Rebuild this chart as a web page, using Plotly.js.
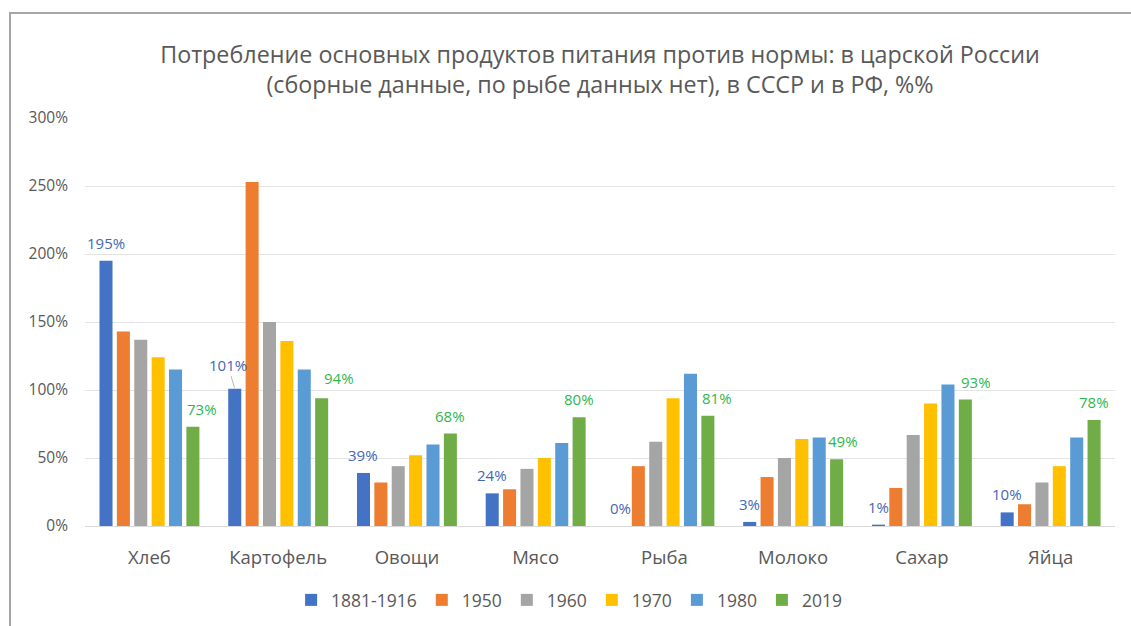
<!DOCTYPE html>
<html>
<head>
<meta charset="utf-8">
<script src="https://cdn.plot.ly/plotly-3.0.1.min.js"></script>
<style>
html,body{margin:0;padding:0;background:#fff;}
#frame{position:absolute;left:0;top:0;width:1131px;height:626px;overflow:hidden;}
#edge{position:absolute;left:9px;top:12px;width:1122px;height:614px;border-top:2px solid #a6a6a6;border-left:2px solid #a6a6a6;box-sizing:border-box;pointer-events:none;z-index:5;}
#chart{position:absolute;left:0;top:0;width:1131px;height:626px;}
</style>
</head>
<body>
<div id="frame"><div id="chart"></div><div id="edge"></div></div>
<script>
const categories = ["Хлеб","Картофель","Овощи","Мясо","Рыба","Молоко","Сахар","Яйца"];
const seriesNames = ["1881-1916","1950","1960","1970","1980","2019"];
const s1881 = [195,101,39,24,0,3,1,10];
const s1950 = [143,253,32,27,44,36,28,16];
const s1960 = [137,150,44,42,62,50,67,32];
const s1970 = [124,136,52,50,94,64,90,44];
const s1980 = [115,115,60,61,112,65,104,65];
const s2019 = [73,94,68,80,81,49,93,78];
const yTicks = [0,50,100,150,200,250,300];

const seriesValues = [s1881,s1950,s1960,s1970,s1980,s2019];
const colors = ["#4472C4","#ED7D31","#A5A5A5","#FFC000","#5B9BD5","#70AD47"];

const FONT = 'Open Sans, Noto Sans, sans-serif';
const M = {l:85, r:16, t:118, b:100};
const W = 1131, H = 626;
const bargap = 0.19, bargroupgap = 0.25;

const traces = seriesValues.map((vals,i)=>({
  type:'bar', name:seriesNames[i], x:categories, y:vals,
  marker:{color:colors[i], line:{width:0}},
  hoverinfo:'skip'
}));

const plotW = W - M.l - M.r;
const slotPx = plotW/categories.length*(1-bargap)/seriesValues.length;

// label style adjustments (pixel nudges) per label
const blueNudge = {"Картофель":{arrow:true, ax:-7, ay:-24}};
const greenNudge = {"Хлеб":{dx:9}, "Картофель":{dx:17, dy:2}, "Рыба":{dx:9}, "Молоко":{dx:6}, "Сахар":{dx:11}};

const annotations = [];
function addLabels(idx, color, nudges){
  const vals = seriesValues[idx];
  categories.forEach((c,k)=>{
    const n = nudges[c] || {};
    const base = {
      xref:'x', yref:'y', x:c, y:vals[k],
      text: vals[k] + '%',
      font:{family:FONT, size:15, color:color},
      xshift:(idx-2.5)*slotPx + (n.dx||0)
    };
    if(n.arrow){
      Object.assign(base,{showarrow:true, ax:n.ax, ay:n.ay, arrowhead:0, arrowwidth:0.8, arrowcolor:'#a6a6a6', standoff:1});
    } else {
      Object.assign(base,{showarrow:false, yanchor:'bottom', yshift:6 + (n.dy||0)});
    }
    annotations.push(base);
  });
}
addLabels(0, '#4467B3', blueNudge);
addLabels(5, '#2DB84D', greenNudge);

const layout = {
  width:W, height:H,
  margin:Object.assign({autoexpand:false}, M),
  paper_bgcolor:'#fff', plot_bgcolor:'#fff',
  barmode:'group', bargap:bargap, bargroupgap:bargroupgap,
  title:{
    text:'Потребление основных продуктов питания против нормы: в царской России<br>(сборные данные, по рыбе данных нет), в СССР и в РФ, %%',
    font:{family:FONT, size:23.3, color:'#595959'},
    x:0.5, xref:'paper', xanchor:'center', y:1-63/626, yref:'container', yanchor:'middle'
  },
  xaxis:{
    type:'category', showgrid:false, showline:false, zeroline:false, ticks:'',
    tickfont:{family:FONT, size:18.5, color:'#595959'},
    ticklabelstandoff:18, automargin:false
  },
  yaxis:{
    range:[0,300], tickvals:yTicks, ticktext:yTicks.map(v=>v+'%'),
    showgrid:true, gridcolor:'#e3e3e3', gridwidth:1, zeroline:true, zerolinecolor:'#d9d9d9', zerolinewidth:1,
    showline:false, ticks:'', automargin:false,
    tickfont:{family:FONT, size:15.5, color:'#595959'},
    ticklabelstandoff:16
  },
  legend:{
    orientation:'h', x:0.47, xanchor:'center', xref:'paper', y:(626-600)/626, yref:'container', yanchor:'middle',
    font:{family:FONT, size:17.5, color:'#595959'},
    itemwidth:30, tracegroupgap:0
  },
  annotations:annotations,
  showlegend:true
};

Plotly.newPlot('chart', traces, layout, {displayModeBar:false, staticPlot:true});
</script>
</body>
</html>
